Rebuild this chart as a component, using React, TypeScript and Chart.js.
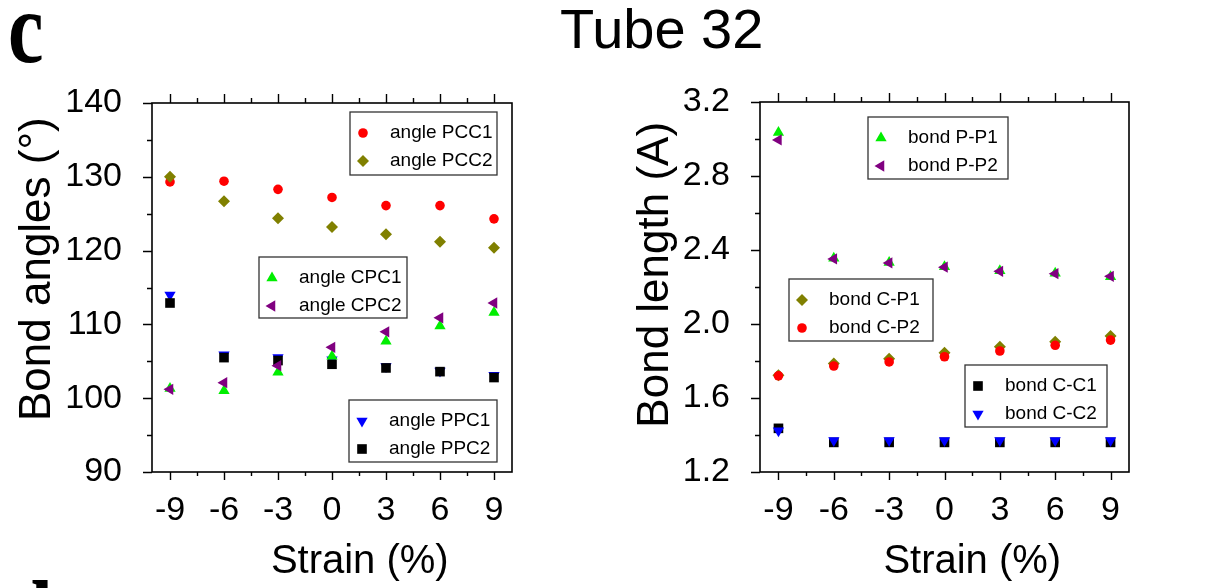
import React, { useEffect, useRef } from 'react';
import { Chart, registerables } from 'chart.js';
import { drawPoint } from 'chart.js/helpers';

Chart.register(...registerables);

// ---------- data ----------
const strain = [-9, -6, -3, 0, 3, 6, 9];

const anglePCC1 = [129.3, 129.4, 128.3, 127.2, 126.1, 126.1, 124.3];
const anglePCC2 = [130.0, 126.7, 124.4, 123.2, 122.2, 121.2, 120.4];
const angleCPC1 = [101.3, 101.0, 103.5, 105.7, 107.7, 109.8, 111.6];
const angleCPC2 = [101.2, 102.1, 104.4, 106.9, 109.0, 110.9, 112.9];
const anglePPC1 = [114.0, 105.9, 105.5, 105.2, 104.3, 103.7, 103.1];
const anglePPC2 = [112.9, 105.5, 105.1, 104.6, 104.1, 103.6, 102.8];

const bondPP1 = [3.035, 2.355, 2.333, 2.31, 2.288, 2.274, 2.256];
const bondPP2 = [2.995, 2.352, 2.33, 2.307, 2.285, 2.272, 2.258];
const bondCP1 = [1.723, 1.787, 1.812, 1.845, 1.877, 1.904, 1.935];
const bondCP2 = [1.72, 1.773, 1.795, 1.823, 1.854, 1.885, 1.913];
const bondCC1 = [1.436, 1.36, 1.36, 1.36, 1.36, 1.36, 1.36];
const bondCC2 = [1.423, 1.37, 1.37, 1.37, 1.37, 1.37, 1.37];

const strainTicks = [-9, -6, -3, 0, 3, 6, 9];
const strainMinorTicks = [-7.5, -4.5, -1.5, 1.5, 4.5, 7.5];
const angleTicks = [90, 100, 110, 120, 130, 140];
const angleMinorTicks = [95, 105, 115, 125, 135];
const lengthTicks = [1.2, 1.6, 2.0, 2.4, 2.8, 3.2];
const lengthMinorTicks = [1.4, 1.8, 2.2, 2.6, 3.0];

// ---------- styling ----------
const SANS = '"Liberation Sans", Arial, sans-serif';

const RED = '#ff0000';
const OLIVE = '#808000';
const GREEN = '#00ee00';
const PURPLE = '#800080';
const BLUE = '#0000ff';
const BLACK = '#000000';

function series(label: string, values: number[], color: string, style: string, rotation: number, radius: number) {
  return {
    label,
    data: strain.map((x, i) => ({ x, y: values[i] })),
    showLine: false,
    pointStyle: style,
    pointRotation: rotation,
    pointRadius: radius,
    pointHoverRadius: radius,
    pointBorderWidth: 0,
    pointBackgroundColor: color,
    backgroundColor: color,
    borderColor: color,
  };
}

const frameTicksPlugin = {
  id: 'frameTicks',
  afterDatasetsDraw(chart: any, _args: any, opts: any) {
    const { ctx, chartArea: a, scales } = chart;
    const xs = scales.x;
    const ys = scales.y;
    ctx.save();
    ctx.strokeStyle = '#000';
    ctx.lineWidth = 1.6;
    ctx.strokeRect(a.left, a.top, a.right - a.left, a.bottom - a.top);
    ctx.lineWidth = 1.4;
    ctx.beginPath();
    const xt = (vals: number[], len: number) =>
      vals.forEach((v) => {
        const px = Math.round(xs.getPixelForValue(v)) + 0.5;
        ctx.moveTo(px, a.bottom);
        ctx.lineTo(px, a.bottom + len);
        ctx.moveTo(px, a.top);
        ctx.lineTo(px, a.top - len - 1);
      });
    const yt = (vals: number[], len: number) =>
      vals.forEach((v) => {
        const py = Math.round(ys.getPixelForValue(v)) + 0.5;
        ctx.moveTo(a.left, py);
        ctx.lineTo(a.left - len, py);
      });
    xt(opts.xMajor, 8);
    xt(opts.xMinor, 4);
    yt(opts.yMajor, 9);
    yt(opts.yMinor, 5);
    ctx.stroke();
    ctx.restore();
  },
};

const boxLegendPlugin = {
  id: 'boxLegends',
  afterDraw(chart: any, _args: any, opts: any) {
    const { ctx, chartArea: a } = chart;
    ctx.save();
    for (const g of opts.groups) {
      const bx = a.left + g.x;
      const by = a.top + g.y;
      ctx.fillStyle = '#fff';
      ctx.fillRect(bx, by, g.w, g.h);
      ctx.strokeStyle = '#333';
      ctx.lineWidth = 1.3;
      ctx.strokeRect(bx, by, g.w, g.h);
      g.items.forEach((idx: number, i: number) => {
        const ds = chart.data.datasets[idx];
        const cy = by + 21 + i * 28;
        ctx.fillStyle = ds.pointBackgroundColor;
        drawPoint(
          ctx,
          { pointStyle: ds.pointStyle, rotation: ds.pointRotation, radius: ds.pointRadius, borderWidth: 0 } as any,
          bx + 13,
          cy
        );
        ctx.fillStyle = '#000';
        ctx.font = '19px ' + SANS;
        ctx.textBaseline = 'middle';
        ctx.textAlign = 'left';
        ctx.fillText(ds.label, bx + 40, cy);
      });
    }
    ctx.restore();
  },
};

function buildConfig(p: {
  datasets: any[];
  yMin: number;
  yMax: number;
  yTicks: number[];
  yMinor: number[];
  yFmt: (v: number) => string;
  yTitle: string;
  yWidth: number;
  padding: { left: number; right: number; top: number; bottom: number };
  groups: any[];
}) {
  return {
    type: 'scatter',
    data: { datasets: p.datasets },
    plugins: [frameTicksPlugin, boxLegendPlugin],
    options: {
      animation: false,
      responsive: false,
      devicePixelRatio: 1,
      layout: { padding: p.padding },
      plugins: {
        legend: { display: false },
        tooltip: { enabled: false },
        frameTicks: { xMajor: strainTicks, xMinor: strainMinorTicks, yMajor: p.yTicks, yMinor: p.yMinor },
        boxLegends: { groups: p.groups },
      },
      scales: {
        x: {
          type: 'linear',
          min: -10,
          max: 10,
          afterBuildTicks: (s: any) => {
            s.ticks = strainTicks.map((v) => ({ value: v }));
          },
          afterFit: (s: any) => {
            s.height = 114;
          },
          grid: { display: false, drawTicks: false },
          border: { display: false },
          ticks: {
            autoSkip: false,
            maxRotation: 0,
            padding: 18,
            color: '#000',
            font: { family: SANS, size: 34 },
            callback: (v: any) => String(v),
          },
          title: {
            display: true,
            text: '     Strain (%)',
            color: '#000',
            padding: 0,
            font: { family: SANS, size: 40 },
          },
        },
        y: {
          type: 'linear',
          min: p.yMin,
          max: p.yMax,
          afterBuildTicks: (s: any) => {
            s.ticks = p.yTicks.map((v) => ({ value: v }));
          },
          afterFit: (s: any) => {
            s.width = p.yWidth;
          },
          grid: { display: false, drawTicks: false },
          border: { display: false },
          ticks: {
            autoSkip: false,
            padding: 30,
            color: '#000',
            font: { family: SANS, size: 34 },
            callback: (v: any) => p.yFmt(Number(v)),
          },
          title: {
            display: true,
            text: p.yTitle,
            color: '#000',
            padding: 0,
            font: { family: SANS, size: 44 },
          },
        },
      },
    },
  };
}

export default function App() {
  const leftRef = useRef<HTMLCanvasElement>(null);
  const rightRef = useRef<HTMLCanvasElement>(null);

  useEffect(() => {
    const leftDatasets = [
      series('angle PCC2', anglePCC2, OLIVE, 'rectRot', 0, 6),
      series('angle PCC1', anglePCC1, RED, 'circle', 0, 4.8),
      series('angle CPC2', angleCPC2, PURPLE, 'triangle', -90, 6.5),
      series('angle CPC1', angleCPC1, GREEN, 'triangle', 0, 6.5),
      series('angle PPC2', anglePPC2, BLACK, 'rect', 0, 6.8),
      series('angle PPC1', anglePPC1, BLUE, 'triangle', 180, 6.5),
    ];
    const rightDatasets = [
      series('bond P-P2', bondPP2, PURPLE, 'triangle', -90, 6.5),
      series('bond P-P1', bondPP1, GREEN, 'triangle', 0, 6.5),
      series('bond C-P2', bondCP2, RED, 'circle', 0, 4.8),
      series('bond C-P1', bondCP1, OLIVE, 'rectRot', 0, 6),
      series('bond C-C2', bondCC2, BLUE, 'triangle', 180, 6.5),
      series('bond C-C1', bondCC1, BLACK, 'rect', 0, 6.8),
    ];

    const left = new Chart(
      leftRef.current as HTMLCanvasElement,
      buildConfig({
        datasets: leftDatasets,
        yMin: 90,
        yMax: 140,
        yTicks: angleTicks,
        yMinor: angleMinorTicks,
        yFmt: (v) => String(v),
        yTitle: '   Bond angles (°)',
        yWidth: 141,
        padding: { left: 11, right: 98, top: 103, bottom: 2 },
        groups: [
          { x: 198, y: 9, w: 147, h: 63, items: [1, 0] },
          { x: 107, y: 154, w: 148, h: 61, items: [3, 2] },
          { x: 197, y: 297, w: 148, h: 62, items: [5, 4] },
        ],
      }) as any
    );
    const right = new Chart(
      rightRef.current as HTMLCanvasElement,
      buildConfig({
        datasets: rightDatasets,
        yMin: 1.2,
        yMax: 3.2,
        yTicks: lengthTicks,
        yMinor: lengthMinorTicks,
        yFmt: (v) => v.toFixed(1),
        yTitle: '  Bond length (A)',
        yWidth: 131,
        padding: { left: 14, right: 96, top: 102, bottom: 2 },
        groups: [
          { x: 108, y: 15, w: 140, h: 62, items: [1, 0] },
          { x: 29, y: 177, w: 144, h: 62, items: [3, 2] },
          { x: 205, y: 263, w: 142, h: 62, items: [5, 4] },
        ],
      }) as any
    );
    return () => {
      left.destroy();
      right.destroy();
    };
  }, []);

  const serifLetter: React.CSSProperties = {
    position: 'absolute',
    left: 8,
    fontFamily: '"Liberation Serif", "Times New Roman", serif',
    fontWeight: 'bold',
    fontSize: 80,
    lineHeight: '80px',
    transform: 'scaleY(1.28)',
    transformOrigin: 'top left',
    color: '#000',
    whiteSpace: 'nowrap',
  };

  return (
    <div
      style={{
        position: 'fixed',
        left: 0,
        top: 0,
        width: 1225,
        height: 588,
        overflow: 'hidden',
        background: '#fff',
      }}
    >
      <canvas ref={leftRef} width={610} height={588} style={{ position: 'absolute', left: 0, top: 0 }} />
      <canvas ref={rightRef} width={610} height={588} style={{ position: 'absolute', left: 615, top: 0 }} />
      <div
        style={{
          position: 'absolute',
          left: 560,
          top: 1,
          fontFamily: SANS,
          fontSize: 56,
          lineHeight: '56px',
          color: '#000',
          whiteSpace: 'nowrap',
        }}
      >
        Tube 32
      </div>
      <div style={{ ...serifLetter, top: -24 }}>c</div>
      <div style={{ ...serifLetter, top: 565 }}>d</div>
    </div>
  );
}
